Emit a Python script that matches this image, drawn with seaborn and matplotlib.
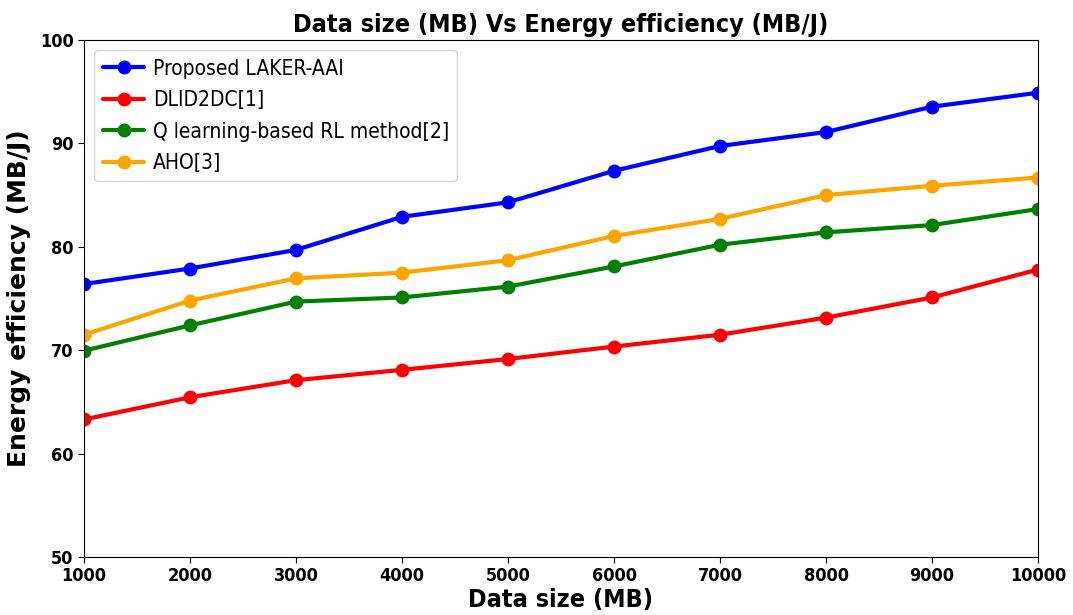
import matplotlib
matplotlib.use("Agg")
import matplotlib.pyplot as plt
import seaborn as sns
import pandas as pd

data_size = [1000, 2000, 3000, 4000, 5000, 6000, 7000, 8000, 9000, 10000]
laker_aai = [76.4, 77.9, 79.7, 82.9, 84.3, 87.35, 89.75, 91.1, 93.55, 94.9]
dlid2dc = [63.3, 65.45, 67.1, 68.1, 69.15, 70.35, 71.5, 73.15, 75.1, 77.8]
q_learning = [69.95, 72.4, 74.7, 75.1, 76.15, 78.1, 80.2, 81.4, 82.1, 83.65]
aho = [71.5, 74.8, 76.95, 77.5, 78.7, 81.05, 82.7, 85.0, 85.9, 86.7]

series_names = ["Proposed LAKER-AAI", "DLID2DC[1]", "Q learning-based RL method[2]", "AHO[3]"]
series_colors = ["blue", "red", "green", "orange"]
x_ticks = [1000, 2000, 3000, 4000, 5000, 6000, 7000, 8000, 9000, 10000]
y_ticks = [50, 60, 70, 80, 90, 100]

sns.set_style("white")
plt.rcParams["font.family"] = ["DejaVu Sans"]
plt.rcParams["font.stretch"] = "condensed"
plt.rcParams["text.color"] = "black"
plt.rcParams["axes.labelcolor"] = "black"
plt.rcParams["xtick.color"] = "black"
plt.rcParams["ytick.color"] = "black"

rows = []
for name, vals in zip(series_names, [laker_aai, dlid2dc, q_learning, aho]):
    for x, y in zip(data_size, vals):
        rows.append({"Data size (MB)": x, "Energy efficiency (MB/J)": y, "Method": name})
df = pd.DataFrame(rows)

fig = plt.figure(figsize=(10.73, 6.15), dpi=100)
ax = fig.add_axes([84 / 1073, 1 - 557 / 615, (1038 - 84) / 1073, (557 - 40) / 615])

sns.lineplot(data=df, x="Data size (MB)", y="Energy efficiency (MB/J)", hue="Method",
             hue_order=series_names, palette=dict(zip(series_names, series_colors)),
             marker="o", markersize=10, linewidth=3, markeredgewidth=0, ax=ax)

ax.set_xlim(1000, 10000)
ax.set_ylim(50, 100)
ax.set_xticks(x_ticks)
ax.set_yticks(y_ticks)
ax.tick_params(axis="both", which="both", length=4, width=0.8, color="black",
               labelcolor="black", labelsize=13, left=True, bottom=True)
for lab in ax.get_xticklabels() + ax.get_yticklabels():
    lab.set_fontweight("bold")
for s in ax.spines.values():
    s.set_color("black")
    s.set_linewidth(0.8)

ax.set_xlabel("Data size (MB)", fontsize=18, fontweight="bold", labelpad=2, color="black")
ax.set_ylabel("Energy efficiency (MB/J)", fontsize=18, fontweight="bold", labelpad=6,
              fontstretch="normal", color="black")
ax.set_title("Data size (MB) Vs Energy efficiency (MB/J)", fontsize=18, fontweight="bold",
             pad=6, color="black")

leg = ax.legend(loc="upper left", fontsize=15, frameon=True, borderaxespad=0.5,
                handlelength=2.0, handletextpad=0.4, labelspacing=0.55)
leg.get_frame().set_edgecolor("#cccccc")
for t in leg.get_texts():
    t.set_color("black")
for h in leg.legend_handles:
    h.set_markersize(10)
    h.set_linewidth(3)

fig.savefig("out.png", dpi=100)
